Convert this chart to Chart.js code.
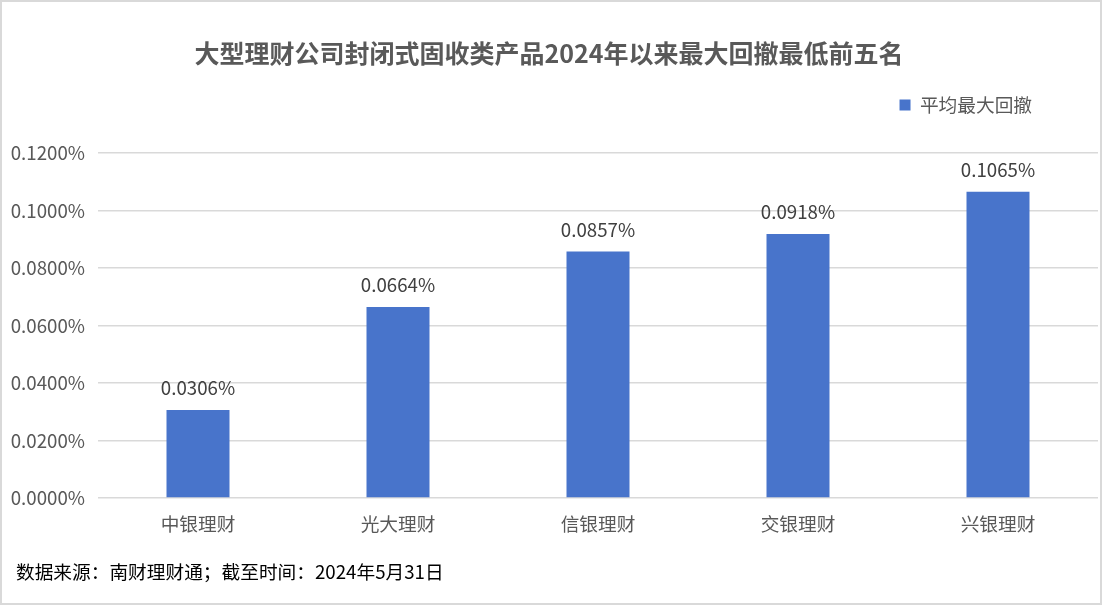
<!DOCTYPE html>
<html>
<head>
<meta charset="utf-8">
<script src="https://cdn.jsdelivr.net/npm/chart.js"></script>
<style>
    html, body { margin: 0; padding: 0; background: #ffffff; }
    #wrap { width: 1102px; height: 605px; position: relative; }
</style>
</head>
<body>
<div id="wrap"><canvas id="drawdownChart" width="1102" height="605"></canvas></div>
<script>
    // Chart data (average max drawdown, in %)
    const companies = ['中银理财', '光大理财', '信银理财', '交银理财', '兴银理财'];
    const avgDrawdown = [0.0306, 0.0664, 0.0857, 0.0918, 0.1065];
    const yTicks = [0, 0.02, 0.04, 0.06, 0.08, 0.10, 0.12];

    const SOURCE_NOTE = '数据来源：南财理财通；截至时间：2024年5月31日';
    const FONT = '"Noto Sans CJK SC", "Noto Sans", sans-serif';
    const TXT = 18.7;

    // white background + thin grey frame like the exported picture
    const frame = {
        id: 'frame',
        beforeDraw(chart) {
            const c = chart.ctx;
            c.save();
            c.fillStyle = '#ffffff';
            c.fillRect(0, 0, chart.width, chart.height);
            c.strokeStyle = '#d9d9d9';
            c.lineWidth = 2;
            c.strokeRect(1, 1, chart.width - 2, chart.height - 2);
            c.restore();
        }
    };

    // extra space under the legend, legend pushed in from the right edge,
    // source note indented a little
    const layoutTweak = {
        id: 'layoutTweak',
        beforeInit(chart) {
            const fit = chart.legend.fit;
            chart.legend.fit = function () {
                fit.bind(chart.legend)();
                this.height += 28.6;
            };
        },
        afterLayout(chart) {
            chart.legend.right -= 56;
            const note = chart.boxes.find(b => b.options && b.options.text === SOURCE_NOTE);
            if (note) note.left += 16;
        }
    };

    // value labels above bars
    const barLabels = {
        id: 'barLabels',
        afterDatasetsDraw(chart) {
            const c = chart.ctx;
            const meta = chart.getDatasetMeta(0);
            c.save();
            c.font = TXT + 'px ' + FONT;
            c.fillStyle = '#404040';
            c.textAlign = 'center';
            c.textBaseline = 'middle';
            meta.data.forEach((bar, i) => {
                c.fillText(avgDrawdown[i].toFixed(4) + '%', bar.x, bar.y - 22);
            });
            c.restore();
        }
    };

    const ctx = document.getElementById('drawdownChart').getContext('2d');
    new Chart(ctx, {
        type: 'bar',
        data: {
            labels: companies,
            datasets: [{
                label: '平均最大回撤',
                data: avgDrawdown,
                backgroundColor: '#4874cb',
                borderWidth: 0,
                barPercentage: 0.315,
                categoryPercentage: 1
            }]
        },
        options: {
            responsive: false,
            animation: false,
            devicePixelRatio: 1,
            layout: { padding: { left: 0, right: 4, top: 0, bottom: 0 } },
            plugins: {
                title: {
                    display: true,
                    text: '大型理财公司封闭式固收类产品2024年以来最大回撤最低前五名',
                    color: '#595959',
                    font: { family: FONT, size: 25, weight: 'bold' },
                    padding: { top: 38, bottom: 17.6 }
                },
                legend: {
                    position: 'top',
                    align: 'end',
                    labels: {
                        boxWidth: 11,
                        boxHeight: 11,
                        color: '#595959',
                        font: { family: FONT, size: TXT },
                        padding: 10
                    }
                },
                subtitle: {
                    display: true,
                    position: 'bottom',
                    align: 'start',
                    text: SOURCE_NOTE,
                    color: '#000000',
                    font: { family: FONT, size: TXT },
                    padding: { top: 12.8, bottom: 21.8 }
                },
                tooltip: { enabled: false }
            },
            scales: {
                x: {
                    grid: { display: false },
                    border: { display: false },
                    ticks: {
                        color: '#595959',
                        font: { family: FONT, size: TXT },
                        padding: 6.5
                    },
                    afterFit(scale) { scale.height = 50; }
                },
                y: {
                    min: 0,
                    max: 0.12,
                    grid: { color: '#d9d9d9', lineWidth: 1.5, drawTicks: false },
                    border: { display: false },
                    afterBuildTicks(scale) {
                        scale.ticks = yTicks.map(v => ({ value: v }));
                    },
                    ticks: {
                        color: '#595959',
                        font: { family: FONT, size: TXT },
                        padding: 13,
                        callback: v => v.toFixed(4) + '%'
                    },
                    afterFit(scale) { scale.width = 98; }
                }
            }
        },
        plugins: [frame, layoutTweak, barLabels]
    });
</script>
</body>
</html>
